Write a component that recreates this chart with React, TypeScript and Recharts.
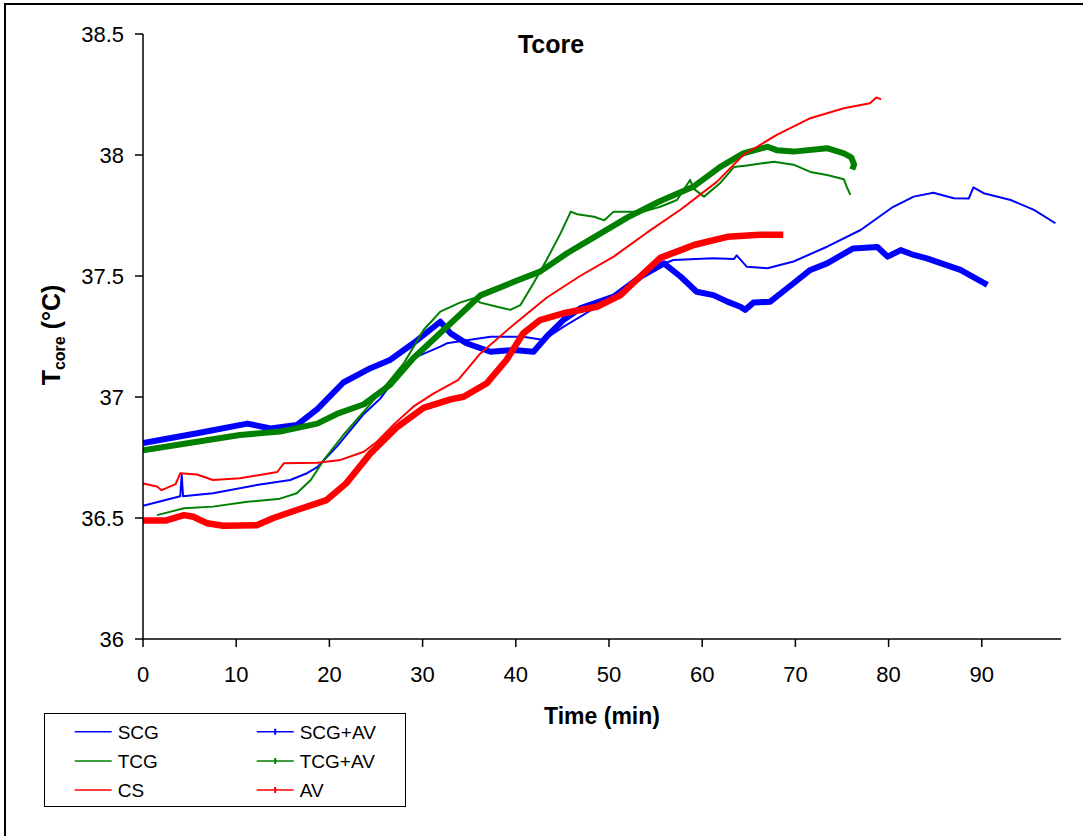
import React from 'react';
import { LineChart, Line, XAxis, YAxis } from 'recharts';

// ---- Data (time in min, core temperature in °C) ----
const scgTime = [0, 2, 4, 4.15, 4.3, 7.5, 12.2, 15.8, 17.6, 18.7, 20.8, 23.7, 25.5, 27.2, 29.4, 31.9, 32.6, 34, 37.3, 40.8, 43, 45.1, 48.7, 52.3, 54.1, 56.9, 61.2, 63.4, 63.7, 64.8, 67, 69.8, 73.4, 77, 80.5, 82.7, 84.8, 87, 88.6, 89.1, 90.2, 93.1, 95.6, 97.9];
const scgTemp = [36.55, 36.57, 36.59, 36.68, 36.59, 36.602, 36.636, 36.657, 36.685, 36.71, 36.795, 36.93, 36.995, 37.084, 37.167, 37.208, 37.222, 37.23, 37.249, 37.249, 37.236, 37.29, 37.373, 37.456, 37.525, 37.566, 37.573, 37.57, 37.585, 37.538, 37.532, 37.56, 37.621, 37.69, 37.786, 37.828, 37.844, 37.821, 37.82, 37.866, 37.842, 37.814, 37.773, 37.718];

const scgAvTime = [0, 5.8, 11.2, 13.7, 16.5, 18.7, 21.5, 24.4, 26.5, 29, 31.9, 33, 34.7, 37.3, 39.8, 41.9, 43.3, 45.1, 46.9, 50.5, 53.4, 55.9, 57.7, 59.4, 61.2, 62.7, 64.1, 64.6, 65.5, 67.3, 69.8, 71.6, 73.4, 76.2, 78.8, 79.9, 81.3, 82.7, 84.1, 87.7, 90.6];
const scgAvTemp = [36.81, 36.85, 36.89, 36.87, 36.884, 36.95, 37.06, 37.119, 37.153, 37.222, 37.311, 37.263, 37.222, 37.187, 37.194, 37.187, 37.249, 37.318, 37.366, 37.415, 37.497, 37.552, 37.497, 37.435, 37.421, 37.394, 37.373, 37.36, 37.39, 37.394, 37.47, 37.525, 37.552, 37.614, 37.62, 37.58, 37.607, 37.587, 37.573, 37.525, 37.463];

const tcgTime = [1.5, 4.4, 7.5, 11.2, 14.7, 16.5, 18, 19.4, 21.5, 23.7, 25.8, 28, 30.1, 31.9, 34, 35.5, 36.2, 38, 39.4, 40.5, 41.9, 43.3, 44.8, 45.9, 46.6, 48.4, 49.5, 50.5, 53.7, 55.5, 57.3, 58.7, 59.1, 60.2, 61.9, 63.4, 64.8, 67.7, 69.8, 71.6, 73.4, 75.2, 75.5, 75.9];
const tcgTemp = [36.512, 36.54, 36.547, 36.567, 36.58, 36.602, 36.657, 36.74, 36.843, 36.94, 37.037, 37.14, 37.277, 37.353, 37.39, 37.408, 37.39, 37.373, 37.36, 37.38, 37.47, 37.566, 37.676, 37.766, 37.755, 37.745, 37.73, 37.766, 37.766, 37.786, 37.814, 37.897, 37.86, 37.828, 37.883, 37.95, 37.957, 37.972, 37.96, 37.93, 37.917, 37.9, 37.869, 37.835];

const tcgAvTime = [0, 5.8, 10.4, 14.7, 18.7, 20.8, 23.7, 26.5, 29, 31.5, 34, 36.2, 39.8, 42.6, 45.5, 48.6, 52, 55.5, 59.1, 61.9, 64.4, 67, 68, 69.8, 73.4, 75.2, 76.0, 76.3, 76.1];
const tcgAvTemp = [36.78, 36.815, 36.843, 36.857, 36.89, 36.93, 36.97, 37.05, 37.16, 37.25, 37.34, 37.42, 37.476, 37.518, 37.594, 37.665, 37.742, 37.81, 37.87, 37.95, 38.007, 38.034, 38.02, 38.014, 38.028, 38.007, 37.99, 37.96, 37.94];

const csTime = [0, 1.5, 2, 3.5, 4, 5.8, 7.5, 10.4, 14.4, 15.1, 18.7, 21.2, 23.7, 25.1, 27, 29, 31.2, 33.8, 36.2, 39.8, 43.3, 46.9, 50.5, 54.1, 57.7, 61.6, 64.4, 68, 71.6, 75.2, 78, 78.7, 79.2];
const csTemp = [36.643, 36.63, 36.615, 36.64, 36.685, 36.68, 36.657, 36.664, 36.69, 36.726, 36.728, 36.74, 36.774, 36.815, 36.89, 36.96, 37.015, 37.07, 37.18, 37.3, 37.41, 37.5, 37.58, 37.68, 37.775, 37.89, 38.0, 38.083, 38.152, 38.193, 38.214, 38.238, 38.23];

const avTime = [0, 2.5, 4.4, 5.4, 6.9, 8.6, 12.2, 14, 16.5, 19.7, 21.8, 24.4, 27.3, 30.1, 33, 34.4, 36.9, 39, 40.8, 42.6, 45.1, 48.7, 51.2, 53.4, 55.5, 57.7, 59.1, 62.7, 66.2, 68.7];
const avTemp = [36.49, 36.49, 36.512, 36.505, 36.478, 36.468, 36.47, 36.5, 36.533, 36.574, 36.643, 36.767, 36.877, 36.955, 36.99, 37.001, 37.057, 37.153, 37.263, 37.318, 37.346, 37.373, 37.42, 37.5, 37.575, 37.607, 37.628, 37.662, 37.67, 37.67];

const xTicks = [0, 10, 20, 30, 40, 50, 60, 70, 80, 90];
const yTicks = [36, 36.5, 37, 37.5, 38, 38.5];

const FONT = '"Liberation Sans", Arial, sans-serif';

const toPoints = (t: number[], v: number[]) => t.map((x, i) => ({ x, y: v[i] }));

const series = [
  { name: 'SCG', data: toPoints(scgTime, scgTemp), color: '#0000FF', width: 2, marker: false },
  { name: 'SCG+AV', data: toPoints(scgAvTime, scgAvTemp), color: '#0000FF', width: 6, marker: true },
  { name: 'TCG', data: toPoints(tcgTime, tcgTemp), color: '#008000', width: 2, marker: false },
  { name: 'TCG+AV', data: toPoints(tcgAvTime, tcgAvTemp), color: '#008000', width: 6, marker: true },
  { name: 'CS', data: toPoints(csTime, csTemp), color: '#FF0000', width: 2, marker: false },
  { name: 'AV', data: toPoints(avTime, avTemp), color: '#FF0000', width: 6.5, marker: true },
];

const legendCol1 = ['SCG', 'TCG', 'CS'];
const legendCol2 = ['SCG+AV', 'TCG+AV', 'AV'];

function LegendBox() {
  const rows = [18.7, 48, 77];
  const find = (n: string) => series.find((s) => s.name === n)!;
  const entry = (name: string, row: number, lx: number) => {
    const s = find(name);
    const y = rows[row];
    return (
      <g key={name}>
        <line x1={lx} x2={lx + 37} y1={y} y2={y} stroke={s.color} strokeWidth={1.5} />
        {s.marker && <rect x={lx + 17.5} y={y - 3} width={2} height={6} fill={s.color} />}
        <text x={lx + 43} y={y + 7} fontSize={19} fontFamily={FONT} fill="#000">{name}</text>
      </g>
    );
  };
  return (
    <div style={{ position: 'absolute', left: 44, top: 713, width: 362, height: 94, border: '1.5px solid #000', boxSizing: 'border-box', background: '#fff' }}>
      <svg width={360} height={92} style={{ position: 'absolute', left: -1.5, top: -1.5 }}>
        {legendCol1.map((n, i) => entry(n, i, 30.7))}
        {legendCol2.map((n, i) => entry(n, i, 212.7))}
      </svg>
    </div>
  );
}

export default function App() {
  return (
    <div style={{ position: 'absolute', left: 0, top: 0, width: 1083, height: 836, overflow: 'hidden', background: '#fff', fontFamily: FONT }}>
      <div style={{ position: 'absolute', left: 4, top: 3, width: 1200, height: 1000, border: '2px solid #000', boxSizing: 'border-box' }} />
      <div style={{ position: 'absolute', left: 0, top: 0 }}>
        <LineChart width={1083} height={836} margin={{ top: 34, right: 22, bottom: 167, left: 0 }}>
          <XAxis
            type="number"
            dataKey="x"
            domain={[0, 98.5]}
            ticks={xTicks}
            interval={0}
            allowDataOverflow
            height={30}
            tickSize={8}
            tickMargin={19}
            axisLine={{ stroke: '#000', strokeWidth: 1.5 }}
            tickLine={{ stroke: '#000', strokeWidth: 1.5 }}
            tick={{ fill: '#000', fontSize: 22, fontFamily: FONT }}
          />
          <YAxis
            type="number"
            domain={[36, 38.5]}
            ticks={yTicks}
            interval={0}
            allowDataOverflow
            width={143}
            tickSize={8}
            tickMargin={11}
            axisLine={{ stroke: '#000', strokeWidth: 1.5 }}
            tickLine={{ stroke: '#000', strokeWidth: 1.5 }}
            tick={{ fill: '#000', fontSize: 22, fontFamily: FONT }}
          />
          {series.map((s) => (
            <Line
              key={s.name}
              name={s.name}
              data={s.data}
              dataKey="y"
              type="linear"
              stroke={s.color}
              strokeWidth={s.width}
              strokeLinejoin="round"
              dot={false}
              activeDot={false}
              isAnimationActive={false}
            />
          ))}
        </LineChart>
      </div>
      <svg width={1083} height={836} style={{ position: 'absolute', left: 0, top: 0, pointerEvents: 'none' }}>
        <text x={551} y={53} textAnchor="middle" fontWeight="bold" fontSize={25} fontFamily={FONT} fill="#000">Tcore</text>
        <text x={602} y={724} textAnchor="middle" fontWeight="bold" fontSize={23} fontFamily={FONT} fill="#000">Time (min)</text>
        <text transform="rotate(-90)" x={-335} y={60} textAnchor="middle" fontWeight="bold" fontSize={25} fontFamily={FONT} fill="#000">
          T<tspan fontSize={16} dy={5}>core</tspan><tspan dy={-5}> (°C)</tspan>
        </text>
      </svg>
      <LegendBox />
    </div>
  );
}
